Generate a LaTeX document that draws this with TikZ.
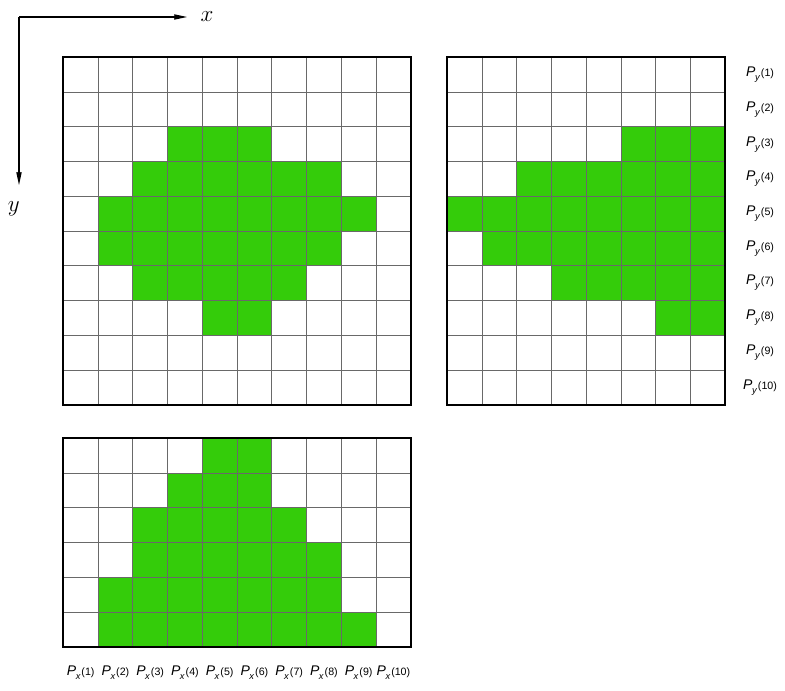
\documentclass[tikz,border=0pt]{standalone}
\usepackage{fontspec}
\setmainfont{Liberation Sans}
\usepackage{xcolor}
\usepackage{tikz}
\usetikzlibrary{arrows.meta, positioning}

\definecolor{cellgreen}{RGB}{52,204,10}
\definecolor{gridgray}{RGB}{105,105,105}

% label P_sub(k)
\newcommand{\plab}[2]{\textit{P}\kern-0.3pt\raisebox{-3pt}{\fontsize{7}{8}\selectfont\textit{#1}}\kern0.6pt{\fontsize{8}{9}\selectfont(#2)}}

\begin{document}
\begin{tikzpicture}[
    x=0.75pt, y=-0.75pt,
    cell/.style={fill=cellgreen, draw=none},
    gridln/.style={draw=gridgray, line width=0.6pt},
    frame/.style={draw=black, line width=1.3pt},
    lbl/.style={inner sep=0pt, font=\fontsize{10.5}{12}\selectfont},
    axis/.style={-{Stealth[length=14pt, width=6pt, inset=7pt]}, line width=0.9pt}
]
\useasboundingbox (0,0) rectangle (785,691);

% axes
\coordinate (org) at (19,17);
\coordinate (xtip) at (187,17);
\coordinate (ytip) at (19,185);
\draw[axis] (org) -- (xtip);
\draw[axis] (org) -- (ytip);
\node[right=10pt of xtip, inner sep=0pt, font=\fontsize{18}{20}\selectfont] (xlab) {$x$};
\node[below=12pt of ytip, xshift=-4pt, inner sep=0pt, font=\fontsize{18}{20}\selectfont] (ylab) {$y$};

% grid 1 (10 x 10)
\begin{scope}[shift={(63.3,57.3)}, x=26.06pt, y=-26.06pt]
  \foreach \r/\a/\b in {3/4/6, 4/3/8, 5/2/9, 6/2/8, 7/3/7, 8/5/6}
    \fill[cell] (\a-1,\r-1) rectangle (\b,\r);
  \foreach \i in {1,...,9} {
    \draw[gridln] (\i,0) -- (\i,10);
    \draw[gridln] (0,\i) -- (10,\i);
  }
  \draw[frame] (0,0) rectangle (10,10);
\end{scope}

% grid 2 (8 x 10) with P_y labels
\begin{scope}[shift={(447.3,57.3)}, x=26.06pt, y=-26.06pt]
  \foreach \r/\a/\b in {3/6/8, 4/3/8, 5/1/8, 6/2/8, 7/4/8, 8/7/8}
    \fill[cell] (\a-1,\r-1) rectangle (\b,\r);
  \foreach \i in {1,...,7}
    \draw[gridln] (\i,0) -- (\i,10);
  \foreach \i in {1,...,9}
    \draw[gridln] (0,\i) -- (8,\i);
  \draw[frame] (0,0) rectangle (8,10);
  \foreach \k in {1,...,10}
    \node[lbl] (py\k) at (9,\k-0.5) {\plab{y}{\k}};
\end{scope}

% grid 3 (10 x 6) with P_x labels
\begin{scope}[shift={(63.3,438.3)}, x=26.06pt, y=-26.06pt]
  \foreach \r/\a/\b in {1/5/6, 2/4/6, 3/3/7, 4/3/8, 5/2/8, 6/2/9}
    \fill[cell] (\a-1,\r-1) rectangle (\b,\r);
  \foreach \i in {1,...,9}
    \draw[gridln] (\i,0) -- (\i,6);
  \foreach \i in {1,...,5}
    \draw[gridln] (0,\i) -- (10,\i);
  \draw[frame] (0,0) rectangle (10,6);
  \foreach \k in {1,...,10}
    \node[lbl] (px\k) at (\k-0.5,6.75) {\plab{x}{\k}};
\end{scope}
\end{tikzpicture}
\end{document}
